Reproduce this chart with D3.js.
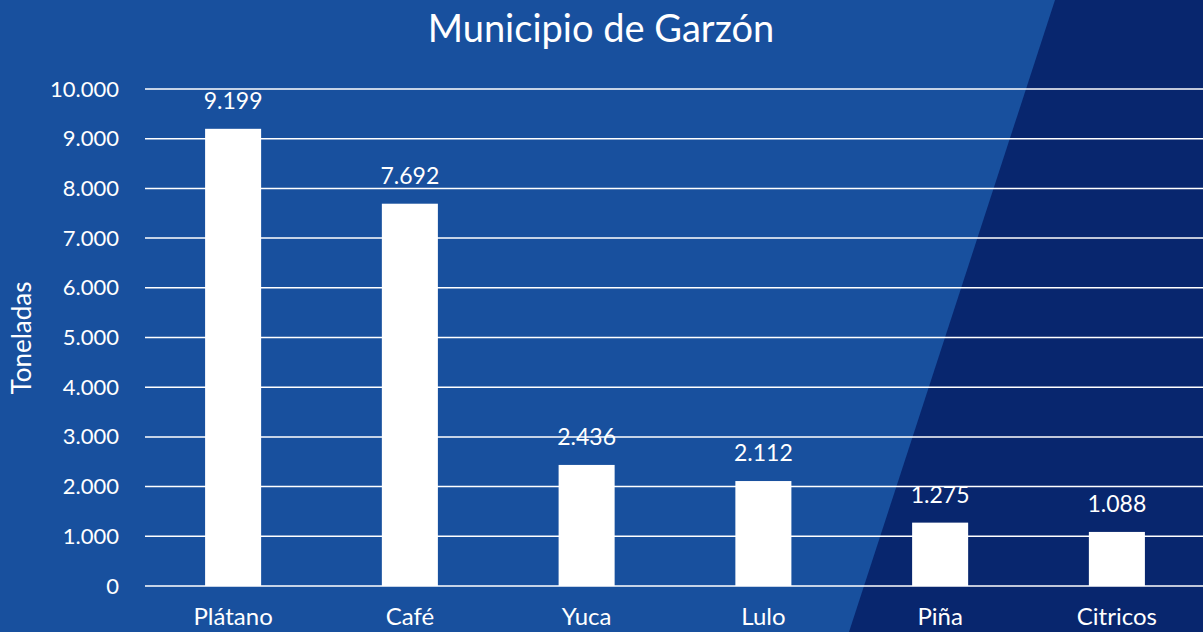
<!DOCTYPE html>
<html>
<head>
<meta charset="utf-8">
<script src="https://cdn.jsdelivr.net/npm/d3@7"></script>
<style>
  body { margin: 0; overflow: hidden; }
  svg { display: block; font-family: Lato, "Open Sans", sans-serif; }
</style>
</head>
<body>
<div id="container"></div>
<script>
/* DATA */
const categories = ["Plátano", "Café", "Yuca", "Lulo", "Piña", "Citricos"];
const values = [9199, 7692, 2436, 2112, 1275, 1088];
const yTicks = [0, 1000, 2000, 3000, 4000, 5000, 6000, 7000, 8000, 9000, 10000];

/* CONSTANTS */
const width = 1203,
  height = 632,
  margin = { top: 89, bottom: 46, left: 145, right: -2 };

const fmt = d3.formatLocale({ decimal: ",", thousands: ".", grouping: [3], currency: ["", ""] }).format(",d");

const svg = d3.select("#container")
  .append("svg")
  .attr("width", width)
  .attr("height", height);

// background + dark diagonal panel
svg.append("rect")
  .attr("width", width)
  .attr("height", height)
  .attr("fill", "#18509e");

svg.append("polygon")
  .attr("points", `1055,0 ${width},0 ${width},${height} 849,${height}`)
  .attr("fill", "#08266e");

// scales
const xScale = d3.scaleBand()
  .domain(categories)
  .range([margin.left, width - margin.right])
  .paddingInner(0.683)
  .paddingOuter(0.34);

const yScale = d3.scaleLinear()
  .domain([0, 10000])
  .range([height - margin.bottom, margin.top]);

// gridlines
svg.append("g")
  .selectAll("line")
  .data(yTicks)
  .join("line")
  .attr("x1", margin.left)
  .attr("x2", width)
  .attr("y1", d => yScale(d))
  .attr("y2", d => yScale(d))
  .attr("stroke", "#ffffff")
  .attr("stroke-width", 1.5);

// y axis
const yAxis = d3.axisLeft(yScale)
  .tickValues(yTicks)
  .tickFormat(fmt)
  .tickSize(0)
  .tickPadding(26);

svg.append("g")
  .attr("transform", `translate(${margin.left},0)`)
  .call(yAxis)
  .call(g => g.select(".domain").remove())
  .selectAll("text")
  .attr("fill", "#ffffff")
  .attr("font-size", 22)
  .attr("font-family", "Lato, 'Open Sans', sans-serif");

// x axis
const xAxis = d3.axisBottom(xScale).tickSize(0).tickPadding(22);

svg.append("g")
  .attr("transform", `translate(0,${yScale(0)})`)
  .call(xAxis)
  .call(g => g.select(".domain").remove())
  .selectAll("text")
  .attr("fill", "#ffffff")
  .attr("font-size", 24)
  .attr("font-family", "Lato, 'Open Sans', sans-serif");

// bars
svg.append("g")
  .selectAll("rect")
  .data(values)
  .join("rect")
  .attr("x", (d, i) => xScale(categories[i]))
  .attr("y", d => yScale(d))
  .attr("width", xScale.bandwidth())
  .attr("height", d => yScale(0) - yScale(d))
  .attr("fill", "#ffffff");

// value labels
svg.append("g")
  .selectAll("text")
  .data(values)
  .join("text")
  .attr("x", (d, i) => xScale(categories[i]) + xScale.bandwidth() / 2)
  .attr("y", d => yScale(d) - 20)
  .attr("text-anchor", "middle")
  .attr("fill", "#ffffff")
  .attr("font-size", 23)
  .text(d => fmt(d));

// title
svg.append("text")
  .attr("x", 601)
  .attr("y", 42)
  .attr("text-anchor", "middle")
  .attr("fill", "#ffffff")
  .attr("font-size", 38)
  .text("Municipio de Garzón");

// y axis title
svg.append("text")
  .attr("transform", `translate(31,338) rotate(-90)`)
  .attr("text-anchor", "middle")
  .attr("fill", "#ffffff")
  .attr("font-size", 26)
  .text("Toneladas");
</script>
</body>
</html>
